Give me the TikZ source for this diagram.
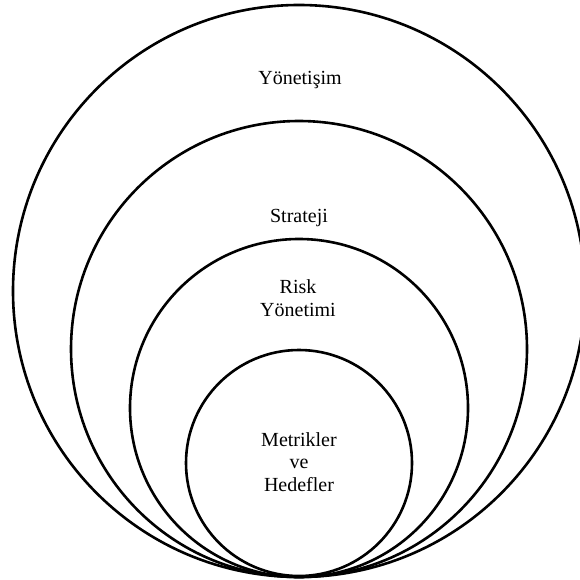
\documentclass[tikz,border=0pt]{standalone}
\usepackage{fontspec}
\setmainfont{Liberation Serif}
\begin{document}
\begin{tikzpicture}[x=1pt,y=-1pt,
  ring/.style={draw=black,line width=2.6pt,circle,inner sep=0pt},
  lbl/.style={font=\fontsize{20}{22.5}\selectfont,align=center,inner sep=0pt,anchor=base}]
\useasboundingbox (0,0) rectangle (579,580);
\node[ring,minimum size=572pt] (gov) at (299,291) {};
\node[ring,minimum size=456pt] (str) at (299,349) {};
\node[ring,minimum size=338pt] (risk) at (299,408) {};
\node[ring,minimum size=226pt] (met) at (299,463) {};
\node[lbl] (tgov) at (300,85) {Yönetişim};
\node[lbl] (tstr) at (299,222) {Strateji};
\node[lbl] (trisk) at (298,316) {Risk\\Yönetimi};
\node[lbl] (tmet) at (299,491) {Metrikler\\ve\\Hedefler};
\end{tikzpicture}
\end{document}
